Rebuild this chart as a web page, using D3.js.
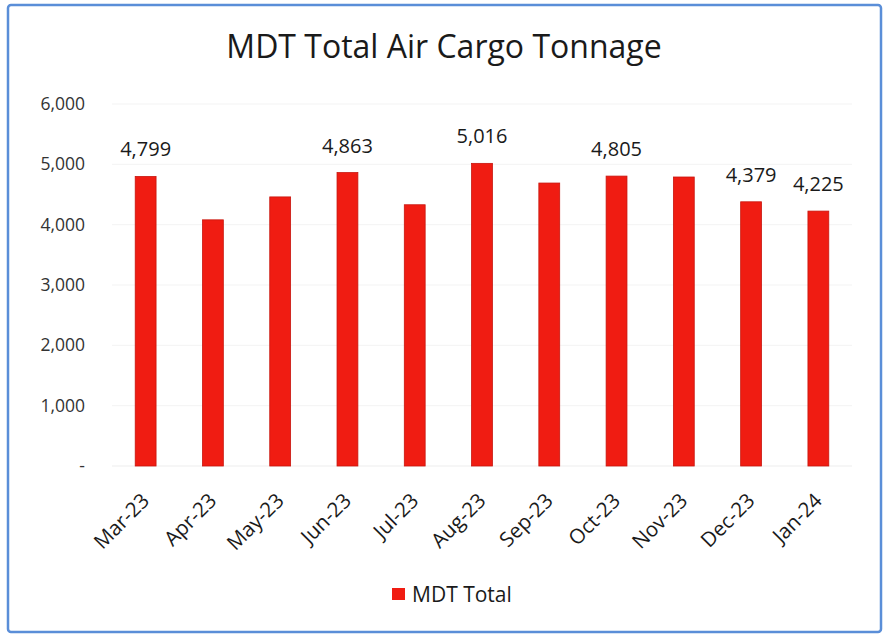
<!DOCTYPE html>
<html>
<head>
<meta charset="utf-8">
<script src="https://cdn.jsdelivr.net/npm/d3@7"></script>
<style>
  html, body { margin: 0; padding: 0; background: #fff; }
  svg { display: block; font-family: "Open Sans", "Noto Sans", sans-serif; }
</style>
</head>
<body>
<div id="chart"></div>
<script>
// chart data
const months = ["Mar-23", "Apr-23", "May-23", "Jun-23", "Jul-23", "Aug-23",
                "Sep-23", "Oct-23", "Nov-23", "Dec-23", "Jan-24"];
const tonnage = [4799, 4080, 4460, 4863, 4330, 5016, 4690, 4805, 4790, 4379, 4225];
// only some bars carry a label in the original
const labelled = ["Mar-23", "Jun-23", "Aug-23", "Oct-23", "Dec-23", "Jan-24"];
const yTicks = [0, 1000, 2000, 3000, 4000, 5000, 6000];
const seriesName = "MDT Total";

const width = 888, height = 639;
const margin = { top: 104, right: 36, bottom: 173, left: 112 };
const innerW = width - margin.left - margin.right;
const innerH = height - margin.top - margin.bottom;

const data = months.map((m, i) => ({ month: m, value: tonnage[i] }));

const svg = d3.select("#chart").append("svg")
  .attr("width", width)
  .attr("height", height);

// outer frame
svg.append("rect")
  .attr("x", 8).attr("y", 5)
  .attr("width", 873).attr("height", 627)
  .attr("rx", 3)
  .attr("fill", "#fff")
  .attr("stroke", "#5a8ed8")
  .attr("stroke-width", 2.5);

svg.append("text")
  .attr("x", 444).attr("y", 58)
  .attr("text-anchor", "middle")
  .style("font-size", "32px")
  .style("fill", "#1a1a1a")
  .text("MDT Total Air Cargo Tonnage");

const g = svg.append("g")
  .attr("transform", `translate(${margin.left},${margin.top})`);

const x = d3.scaleBand()
  .domain(months)
  .range([0, innerW])
  .paddingInner(0.69)
  .paddingOuter(0.345);

const y = d3.scaleLinear()
  .domain([0, 6000])
  .range([innerH, 0]);

// faint gridlines
g.append("g")
  .selectAll("line")
  .data(yTicks.slice(1))
  .join("line")
  .attr("x1", 0).attr("x2", innerW)
  .attr("y1", d => y(d)).attr("y2", d => y(d))
  .attr("stroke", "#f3f3f3")
  .attr("stroke-width", 1);

// y axis (accounting format: zero shown as a dash)
const yAxis = g.append("g")
  .call(d3.axisLeft(y).tickValues(yTicks).tickSize(0).tickPadding(27)
    .tickFormat(d => d === 0 ? "-" : d3.format(",")(d)));
yAxis.select(".domain").remove();
yAxis.selectAll("text")
  .style("font-size", "17.5px")
  .style("font-family", "\"Open Sans\", sans-serif")
  .style("fill", "#333");

// baseline
g.append("line")
  .attr("x1", 0).attr("x2", innerW)
  .attr("y1", innerH).attr("y2", innerH)
  .attr("stroke", "#ededed");

// bars
g.selectAll("rect.bar")
  .data(data)
  .join("rect")
  .attr("class", "bar")
  .attr("x", d => x(d.month))
  .attr("y", d => y(d.value))
  .attr("width", x.bandwidth())
  .attr("height", d => innerH - y(d.value))
  .attr("fill", "#f01c12")
  .attr("stroke", "#c8160e")
  .attr("stroke-width", 0.8);

// data labels
g.selectAll("text.lbl")
  .data(data.filter(d => labelled.includes(d.month)))
  .join("text")
  .attr("class", "lbl")
  .attr("x", d => x(d.month) + x.bandwidth() / 2)
  .attr("y", d => y(d.value) - 20)
  .attr("text-anchor", "middle")
  .style("font-size", "20px")
  .style("fill", "#1a1a1a")
  .text(d => d3.format(",")(d.value));

// x axis, rotated labels
const xAxis = g.append("g")
  .attr("transform", `translate(0,${innerH})`)
  .call(d3.axisBottom(x).tickSize(0).tickPadding(0));
xAxis.select(".domain").remove();
xAxis.selectAll("text")
  .attr("text-anchor", "end")
  .attr("dy", 0)
  .attr("transform", `translate(5,36) rotate(-45)`)
  .style("font-size", "20.5px")
  .style("font-family", "\"Open Sans\", sans-serif")
  .style("fill", "#1a1a1a");

// legend
const legend = svg.append("g").attr("transform", "translate(392,588)");
legend.append("rect")
  .attr("x", 0).attr("y", 0)
  .attr("width", 13).attr("height", 12)
  .attr("fill", "#f01c12");
legend.append("text")
  .attr("x", 20).attr("y", 14)
  .style("font-size", "21px")
  .style("fill", "#1a1a1a")
  .text(seriesName);
</script>
</body>
</html>
